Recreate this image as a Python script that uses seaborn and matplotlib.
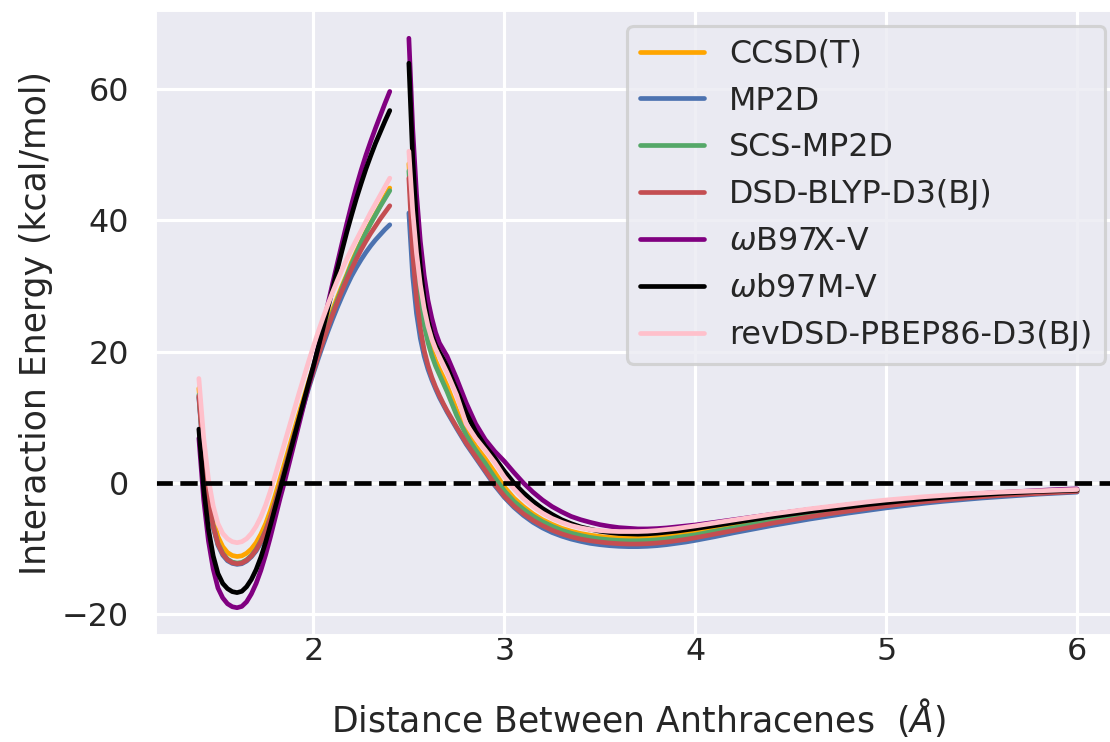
import matplotlib

matplotlib.use("Agg")
import matplotlib.pyplot as plt
import pandas as pd
import seaborn as sns

# distances (Angstrom) for the two scanned segments
x_short = [1.400, 1.425, 1.450, 1.475, 1.500, 1.525, 1.550, 1.575, 1.600,
           1.625, 1.650, 1.675, 1.700, 1.725, 1.750, 1.775, 1.800,
           1.825, 1.850, 1.875, 1.900, 1.925, 1.950, 1.975, 2.000,
           2.025, 2.050, 2.075, 2.100, 2.125, 2.150, 2.175, 2.200,
           2.225, 2.250, 2.275, 2.300, 2.325, 2.350, 2.375, 2.400]
x_long = [2.50, 2.52, 2.54, 2.56, 2.58, 2.60, 2.62, 2.64, 2.66, 2.68, 2.70,
          2.75, 2.80, 2.85, 2.90, 2.95, 3.00, 3.05, 3.10, 3.15, 3.20, 3.25, 3.30, 3.35,
          3.40, 3.45, 3.50, 3.55, 3.60, 3.65, 3.70, 3.75, 3.80, 3.85, 3.90, 3.95, 4.00,
          4.1, 4.2, 4.3, 4.4, 4.5, 4.6, 4.7, 4.8, 4.9, 5.0,
          5.1, 5.2, 5.3, 5.4, 5.5, 5.6, 5.7, 5.8, 5.9, 6.0]

methods = ["CCSD(T)", "MP2D", "SCS-MP2D", "DSD-BLYP-D3(BJ)",
           r"$\omega$B97X-V", r"$\omega$b97M-V", "revDSD-PBEP86-D3(BJ)"]
colors = ["orange", "#4c72b0", "#55a868", "#c44e52", "purple", "black", "pink"]

# interaction energies (kcal/mol)
ccsdt_short = [14.4, 5.2, -1.2, -5.5, -8.2, -9.7, -10.6, -11.05, -11.2,
               -11.1, -10.7, -10.05, -9.1, -7.8, -6.2, -4.2, -1.9,
               0.6, 3.1, 5.6, 8.1, 10.6, 13.0, 15.4, 17.7,
               20.0, 22.2, 24.3, 26.3, 28.2, 30.0, 31.7, 33.6,
               35.2, 36.7, 38.2, 39.6, 40.9, 42.2, 43.6, 44.9]
ccsdt_long = [48.6, 39.5, 33.0, 28.3, 24.8, 22.2, 20.2, 18.6, 17.3, 16.1, 14.8,
              11.1, 7.9, 5.6, 3.7, 1.6, -0.6, -2.3, -3.6, -4.7, -5.6, -6.3, -6.9, -7.35,
              -7.7, -7.95, -8.15, -8.3, -8.35, -8.4, -8.4, -8.35, -8.25, -8.1, -7.9, -7.7, -7.5,
              -7.0, -6.5, -6.0, -5.55, -5.1, -4.65, -4.25, -3.85, -3.5, -3.2,
              -2.9, -2.6, -2.35, -2.15, -1.95, -1.75, -1.6, -1.45, -1.3, -1.2]

mp2d_short = [13.0, 3.8, -2.5, -6.8, -9.5, -11.0, -11.85, -12.25, -12.4,
              -12.3, -11.9, -11.25, -10.35, -9.1, -7.5, -5.5, -3.2,
              -0.7, 1.9, 4.5, 7.1, 9.6, 12.0, 14.4, 16.7,
              18.9, 21.0, 23.0, 24.9, 26.7, 28.4, 30.0, 31.5,
              32.8, 34.0, 35.1, 36.1, 37.0, 37.8, 38.6, 39.3]
mp2d_long = [41.1, 31.5, 25.8, 22.0, 19.3, 17.3, 15.7, 14.3, 13.0, 11.9, 10.8,
             8.3, 5.9, 3.8, 1.7, -0.4, -2.2, -3.7, -4.95, -6.0, -6.85, -7.55, -8.1, -8.55,
             -8.9, -9.2, -9.4, -9.55, -9.65, -9.7, -9.7, -9.65, -9.55, -9.4, -9.2, -9.0, -8.75,
             -8.2, -7.6, -7.05, -6.5, -6.0, -5.5, -5.05, -4.6, -4.2, -3.8,
             -3.45, -3.1, -2.8, -2.55, -2.3, -2.1, -1.9, -1.7, -1.55, -1.4]

scs_mp2d_short = [13.4, 4.2, -2.2, -6.5, -9.2, -10.7, -11.6, -12.05, -12.2,
                  -12.1, -11.7, -11.05, -10.1, -8.8, -7.2, -5.2, -2.9,
                  -0.4, 2.2, 4.8, 7.4, 9.9, 12.4, 14.8, 17.2,
                  19.5, 21.7, 23.8, 25.9, 27.8, 29.7, 31.5, 33.3,
                  35.0, 36.6, 38.1, 39.5, 40.8, 42.1, 43.3, 44.5]
scs_mp2d_long = [47.5, 38.5, 32.0, 27.4, 24.0, 21.4, 19.4, 17.8, 16.5, 15.2, 13.9,
                 10.3, 7.3, 5.0, 3.0, 0.8, -1.2, -2.8, -4.0, -5.05, -5.9, -6.6, -7.2, -7.65,
                 -8.0, -8.3, -8.5, -8.65, -8.75, -8.8, -8.8, -8.75, -8.65, -8.5, -8.3, -8.1, -7.9,
                 -7.35, -6.85, -6.3, -5.8, -5.35, -4.9, -4.45, -4.05, -3.7, -3.35,
                 -3.0, -2.7, -2.45, -2.2, -2.0, -1.8, -1.65, -1.5, -1.35, -1.2]

dsd_blyp_short = [13.2, 4.0, -2.3, -6.6, -9.3, -10.8, -11.7, -12.15, -12.3,
                  -12.2, -11.8, -11.15, -10.2, -8.9, -7.3, -5.3, -3.0,
                  -0.5, 2.1, 4.7, 7.3, 9.8, 12.3, 14.7, 17.0,
                  19.3, 21.5, 23.6, 25.6, 27.5, 29.3, 31.0, 32.6,
                  34.1, 35.5, 36.8, 38.0, 39.1, 40.2, 41.2, 42.2]
dsd_blyp_long = [46.4, 35.0, 28.0, 23.5, 20.2, 17.9, 16.1, 14.6, 13.3, 12.1, 11.0,
                 8.5, 6.1, 4.0, 1.9, -0.2, -2.0, -3.5, -4.7, -5.7, -6.5, -7.2, -7.75, -8.2,
                 -8.55, -8.8, -9.0, -9.15, -9.25, -9.3, -9.3, -9.25, -9.15, -9.0, -8.8, -8.6, -8.35,
                 -7.8, -7.25, -6.7, -6.15, -5.65, -5.15, -4.7, -4.3, -3.9, -3.5,
                 -3.15, -2.85, -2.6, -2.35, -2.1, -1.9, -1.75, -1.6, -1.45, -1.3]

wb97xv_short = [6.8, -2.5, -8.8, -13.1, -16.0, -17.5, -18.4, -18.85, -19.0,
                -18.8, -18.1, -16.9, -15.3, -13.3, -10.9, -8.2, -5.3,
                -2.4, 0.3, 3.2, 6.1, 9.0, 11.9, 14.8, 17.6,
                20.7, 23.9, 27.1, 30.3, 33.4, 36.5, 39.5, 42.4,
                45.1, 47.6, 49.9, 52.0, 54.0, 55.9, 57.8, 59.6]
wb97xv_long = [67.7, 54.0, 44.0, 36.8, 31.6, 27.8, 25.1, 22.9, 21.3, 20.3, 19.3,
               15.9, 12.2, 9.0, 6.6, 4.8, 3.3, 1.6, 0.0, -1.4, -2.6, -3.6, -4.4, -5.1,
               -5.6, -6.0, -6.35, -6.6, -6.8, -6.9, -7.0, -7.0, -6.95, -6.85, -6.7, -6.55, -6.4,
               -6.0, -5.6, -5.2, -4.8, -4.4, -4.05, -3.7, -3.35, -3.05, -2.75,
               -2.5, -2.25, -2.0, -1.8, -1.6, -1.45, -1.3, -1.15, -1.0, -0.9]

wb97mv_short = [8.2, -0.9, -7.0, -11.1, -13.8, -15.3, -16.1, -16.55, -16.7,
                -16.5, -15.8, -14.7, -13.2, -11.3, -9.0, -6.4, -3.7,
                -1.0, 1.7, 4.4, 7.1, 9.8, 12.5, 15.2, 17.8,
                20.6, 23.5, 26.5, 29.5, 32.5, 35.4, 38.2, 40.8,
                43.3, 45.6, 47.8, 49.8, 51.7, 53.4, 55.1, 56.7]
wb97mv_long = [63.9, 49.5, 39.5, 32.8, 28.0, 24.8, 22.6, 21.0, 19.9, 18.9, 17.7,
               14.2, 10.7, 7.8, 5.6, 3.8, 1.8, 0.0, -1.5, -2.8, -3.9, -4.8, -5.6, -6.2,
               -6.7, -7.05, -7.35, -7.55, -7.7, -7.75, -7.8, -7.75, -7.65, -7.5, -7.35, -7.15, -6.95,
               -6.5, -6.05, -5.6, -5.15, -4.75, -4.35, -4.0, -3.65, -3.3, -3.0,
               -2.7, -2.45, -2.2, -2.0, -1.8, -1.6, -1.45, -1.3, -1.2, -1.1]

revdsd_short = [15.9, 6.9, 0.6, -3.5, -6.2, -7.7, -8.5, -8.95, -9.1,
                -8.95, -8.5, -7.7, -6.6, -5.15, -3.35, -1.2, 1.2,
                3.7, 6.2, 8.7, 11.2, 13.7, 16.1, 18.5, 20.8,
                23.0, 25.1, 27.1, 29.0, 30.8, 32.5, 34.1, 35.6,
                37.0, 38.4, 39.8, 41.2, 42.5, 43.8, 45.1, 46.4]
revdsd_long = [50.5, 41.5, 35.0, 30.2, 26.6, 23.9, 21.9, 20.4, 19.2, 18.0, 16.8,
               13.4, 9.0, 6.8, 5.0, 3.1, 0.9, -0.9, -2.4, -3.6, -4.6, -5.4, -6.0, -6.5,
               -6.85, -7.1, -7.25, -7.35, -7.4, -7.4, -7.4, -7.35, -7.25, -7.1, -6.95, -6.75, -6.55,
               -6.1, -5.65, -5.2, -4.75, -4.35, -3.95, -3.6, -3.25, -2.9, -2.6,
               -2.35, -2.1, -1.9, -1.7, -1.55, -1.4, -1.3, -1.2, -1.1, -1.0]

series = [
    (ccsdt_short, ccsdt_long),
    (mp2d_short, mp2d_long),
    (scs_mp2d_short, scs_mp2d_long),
    (dsd_blyp_short, dsd_blyp_long),
    (wb97xv_short, wb97xv_long),
    (wb97mv_short, wb97mv_long),
    (revdsd_short, revdsd_long),
]

frames = []
for name, (short, long_) in zip(methods, series):
    frames.append(pd.DataFrame({"distance": x_short, "energy": short, "method": name, "segment": 0}))
    frames.append(pd.DataFrame({"distance": x_long, "energy": long_, "method": name, "segment": 1}))
df = pd.concat(frames, ignore_index=True)

sns.set_theme(context="talk", style="darkgrid", font_scale=0.925)

fig, ax = plt.subplots(figsize=(7.4, 4.9467), dpi=150)
# the axes runs slightly past the right edge of the canvas, as in the original
fig.subplots_adjust(left=0.1396, right=1.0099, bottom=0.1429, top=0.9865)

sns.lineplot(
    data=df,
    x="distance",
    y="energy",
    hue="method",
    hue_order=methods,
    palette=colors,
    units="segment",
    estimator=None,
    sort=False,
    ax=ax,
)
ax.axhline(0, color="black", linestyle="--")

ax.set_xlim(1.17, 6.23)
ax.set_ylim(-23.3, 72.0)
ax.tick_params(axis="x", length=0, pad=0)
ax.set_xlabel(r"Distance Between Anthracenes  ($\AA$)", labelpad=14)
ax.set_ylabel("Interaction Energy (kcal/mol)")
sns.move_legend(ax, "upper right", title=None)

fig.savefig("out.png", dpi=150)
